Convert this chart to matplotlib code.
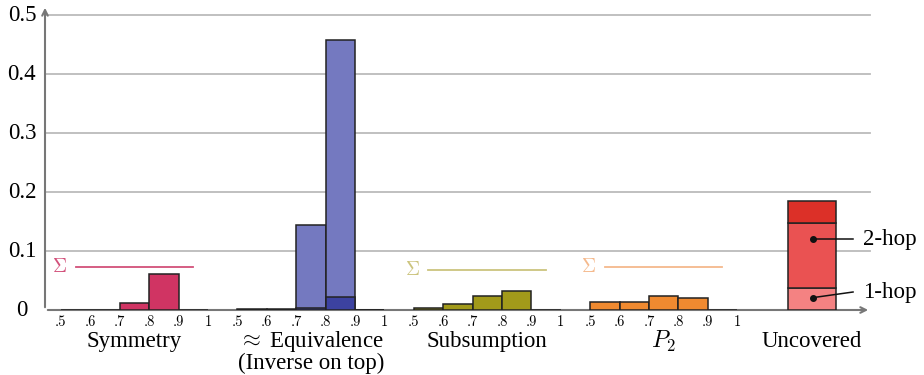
import numpy as np
import matplotlib
matplotlib.use("Agg")
import matplotlib.pyplot as plt

# bins .5-.6, .6-.7, .7-.8, .8-.9, .9-1
bin_labels = [".5", ".6", ".7", ".8", ".9", "1"]
groups = ["Symmetry", r"$\approx$ Equivalence", "Subsumption", "$P_2$"]
symmetry = [0.0, 0.0, 0.012, 0.061, 0.0]
equivalence = [0.001, 0.001, 0.144, 0.458, 0.0]
inverse = [0.0005, 0.0005, 0.003, 0.022, 0.0]
subsumption = [0.003, 0.010, 0.023, 0.032, 0.0]
p2 = [0.014, 0.014, 0.024, 0.021, 0.0]
uncovered_parts = ["1-hop", "2-hop", "other"]
uncovered = [0.037, 0.111, 0.036]
yticks = [0, 0.1, 0.2, 0.3, 0.4, 0.5]

plt.rcParams["font.family"] = ["Liberation Serif", "DejaVu Serif"]
plt.rcParams["mathtext.fontset"] = "cm"

fig = plt.figure(figsize=(9.24, 3.75), dpi=100)
ax = fig.add_axes([45 / 924, 65 / 375, 827 / 924, 305 / 375])
ax.set_xlim(-0.544, 27.585)
ax.set_ylim(0, 0.517)
ax.axis("off")

edge = "#222222"
offsets = [0, 6, 12, 18]
bar_colors = ["#D03463", "#7479C0", "#A29A1A", "#F08A30"]
sigma_colors = ["#D2507A", None, "#CCC47E", "#F5B98C"]
series = [symmetry, equivalence, subsumption, p2]

# grid and axes
for v in yticks[1:]:
    ax.plot([-0.544, 27.5], [v, v], color="#BBBBBB", lw=1.3, zorder=0)
ax.annotate("", xy=(27.55, 0), xytext=(-0.544, 0),
            arrowprops=dict(arrowstyle="->", color="#777777", lw=1.5), zorder=1)
ax.annotate("", xy=(-0.544, 0.517), xytext=(-0.544, 0),
            arrowprops=dict(arrowstyle="->", color="#777777", lw=1.5),
            annotation_clip=False, zorder=1)
for v in yticks:
    ax.text(-1.33, v, f"{v:g}", ha="center", va="center", fontsize=16.5,
            clip_on=False)

x = np.arange(5)
for i, (vals, off) in enumerate(zip(series, offsets)):
    ax.bar(x + off, vals, width=1, align="edge", color=bar_colors[i],
           edgecolor=edge, lw=1.1, zorder=3)
    if i == 1:
        ax.bar(x + off, inverse, width=1, align="edge", color="#3C42A0",
               edgecolor=edge, lw=1.1, zorder=4)
    else:
        s = sum(vals)
        ax.plot([off + 0.5, off + 4.5], [s, s], color=sigma_colors[i],
                lw=1.3, zorder=2)
        ax.text(off - 0.05, s, r"$\Sigma$", color=sigma_colors[i], ha="center",
                va="center", fontsize=14)
    for j, lab in enumerate(bin_labels):
        ax.text(off + j, -0.021, lab, ha="center", va="center",
                fontsize=10.5, family="cmr10", clip_on=False)
    ax.text(off + 2.5, -0.053, groups[i], ha="center", va="center",
            fontsize=17 if i == 3 else 16.5, clip_on=False)
ax.text(6 + 2.5, -0.091, "(Inverse on top)", ha="center", va="center",
        fontsize=16.5, clip_on=False)

# uncovered stacked bar
unc_colors = ["#F48282", "#EA5252", "#DC3028"]
bottom = 0
for val, c in zip(uncovered, unc_colors):
    ax.bar(25.55, val, width=1.63, bottom=bottom, color=c, edgecolor=edge,
           lw=1.1, zorder=3)
    bottom += val
ax.text(25.55, -0.053, "Uncovered", ha="center", va="center", fontsize=16.5,
        clip_on=False)

# annotations
for (dy, ly, txt) in [(0.12, 0.12, "2-hop"), (0.021, 0.0305, "1-hop")]:
    ax.plot([25.58, 26.94], [dy, ly], color="#111111", lw=1.1, zorder=5)
    ax.plot(25.58, dy, "o", color="#111111", ms=4, zorder=5)
    ax.text(27.28, ly, txt, ha="left", va="center", fontsize=16.5,
            clip_on=False)

fig.savefig("out.png", dpi=100)
